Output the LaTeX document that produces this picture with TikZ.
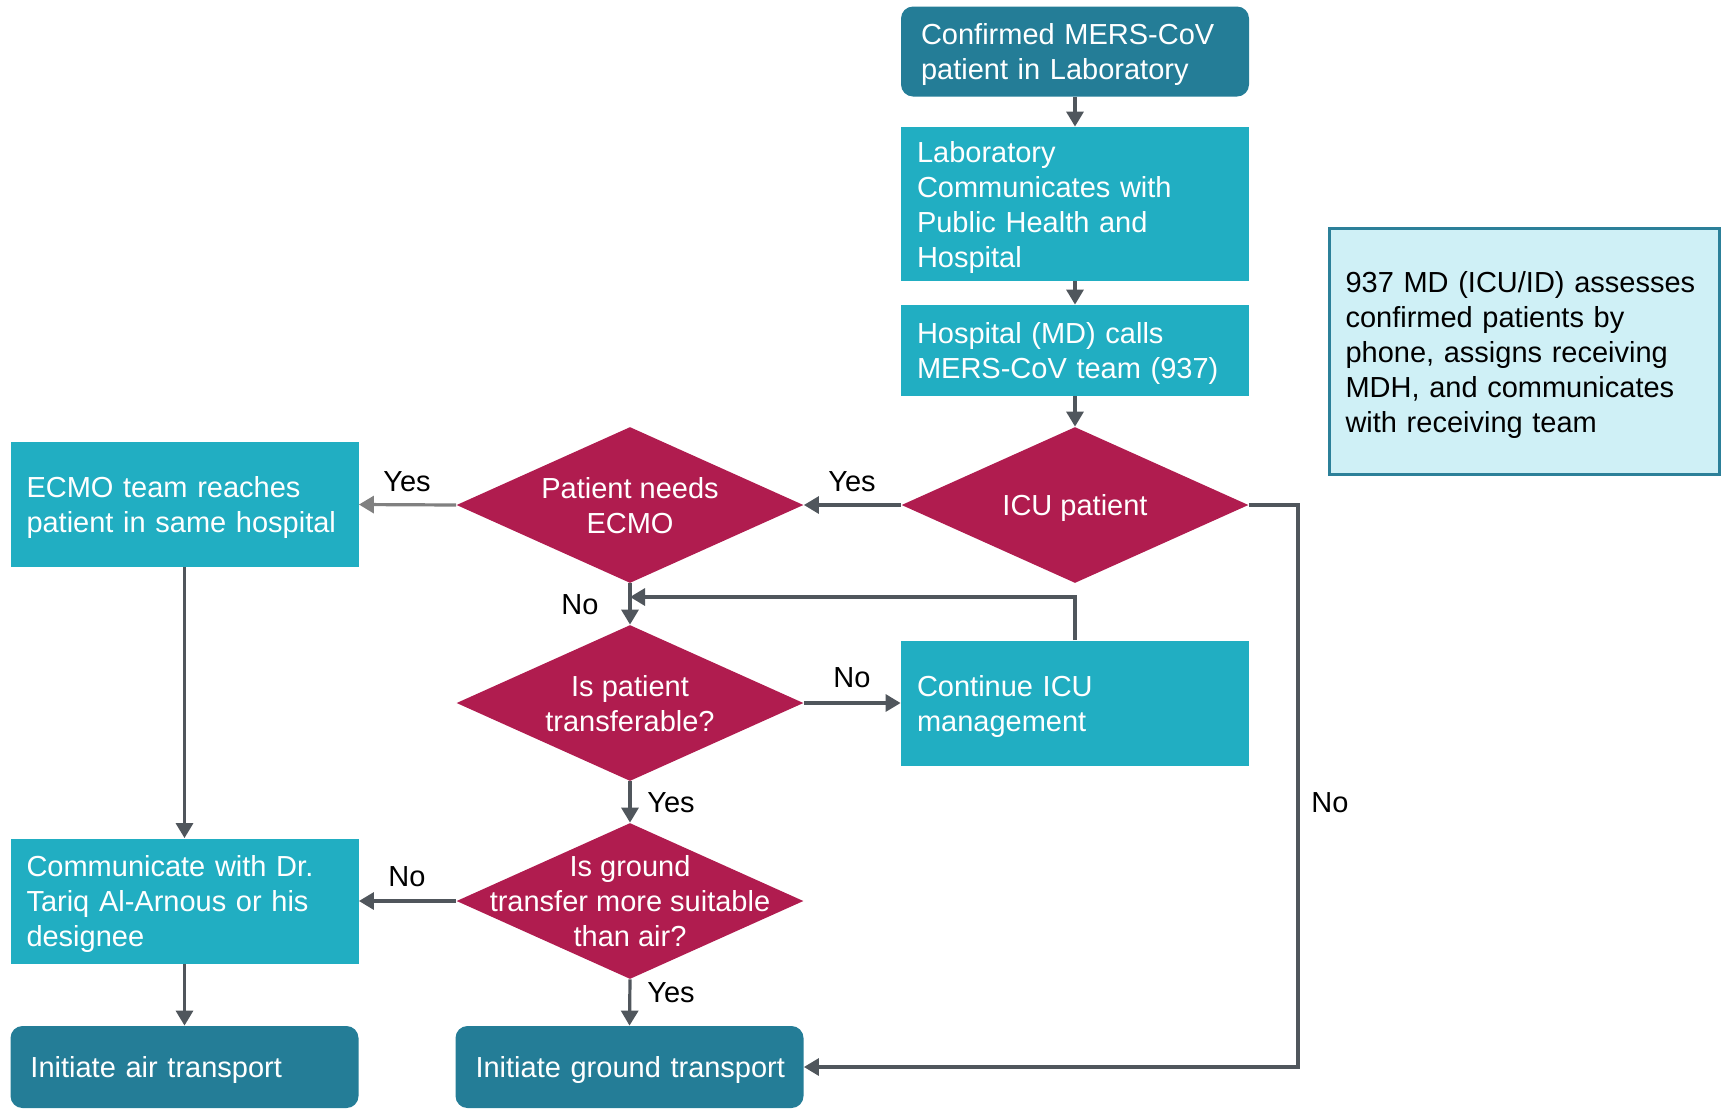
\documentclass[tikz,border=0pt]{standalone}
\usepackage{fontspec}
\setmainfont{Liberation Sans}
\usetikzlibrary{shapes.geometric,arrows.meta}
\definecolor{dteal}{HTML}{247D97}
\definecolor{lteal}{HTML}{21AEC2}
\definecolor{crim}{HTML}{B01C4F}
\definecolor{agrey}{HTML}{50565C}
\definecolor{lgrey}{HTML}{808080}
\definecolor{notefill}{HTML}{CFF0F6}
\definecolor{noteline}{HTML}{2C8099}
\begin{document}
\begin{tikzpicture}[x=0.5pt,y=-0.5pt,
  font=\fontsize{14.5}{17.5}\selectfont,
  lowered/.style={execute at begin node={\hyphenpenalty=10000\rule{0pt}{13.9pt}}},
  lbox/.style={rectangle, fill=lteal, text=white, align=left, inner xsep=8pt, inner ysep=0pt, text width=158pt, minimum width=174pt, lowered},
  rbox/.style={rectangle, rounded corners=6pt, fill=dteal, text=white, align=left, inner xsep=10pt, inner ysep=0pt, text width=154pt, minimum width=174pt, lowered},
  dia/.style={diamond, fill=crim, minimum width=173.5pt, minimum height=78pt, inner sep=0pt},
  dtext/.style={text=white, align=center, inner sep=0pt},
  conn/.style={draw=agrey, line width=1.6pt, -{Triangle[width=8.5pt,length=7.5pt]}},
  lbl/.style={text=black, inner sep=0pt}
]
\useasboundingbox (0,0) rectangle (1723,1109);

% boxes
\node[rbox, minimum height=45pt] (conf) at (1075,51.5) {Confirmed MERS-CoV\\patient in Laboratory};
\node[lbox, minimum height=77pt] (lab) at (1075,204) {Laboratory\\Communicates with\\Public Health and\\Hospital};
\node[lbox, minimum height=45.5pt] (hosp) at (1075,350.5) {Hospital (MD) calls\\MERS-CoV team (937)};
\node[dia] (icu) at (1075,505) {};
\node[dtext] (icut) at (1075,508) {ICU patient};
\node[dia] (ecmo) at (630,505) {};
\node[dtext] (ecmot) at (630,505.5) {Patient needs\\ECMO};
\node[lbox, minimum height=62.5pt] (team) at (184.5,504.5) {ECMO team reaches\\patient in same hospital};
\node[dia] (transf) at (630,703) {};
\node[dtext] (transft) at (630,704) {Is patient\\transferable?};
\node[lbox, minimum height=62.5pt] (cont) at (1075,703) {Continue ICU\\management};
\node[dia] (ground) at (630,901) {};
\node[dtext] (groundt) at (630,901.5) {Is ground\\transfer more suitable\\than air?};
\node[lbox, minimum height=62.5pt] (comm) at (184.5,901) {Communicate with Dr.\\Tariq Al-Arnous or his\\designee};
\node[rbox, minimum height=41pt] (air) at (184.5,1067) {Initiate air transport};
\node[rbox, minimum height=41pt] (gtrans) at (629.5,1067) {\mbox{Initiate ground transport}};

\node[rectangle, draw=noteline, line width=1.5pt, fill=notefill, text=black, align=left,
  minimum width=195pt, minimum height=123pt, text width=179pt, inner xsep=8pt, inner ysep=0pt, lowered] (note) at (1524.5,351.5)
  {937 MD (ICU/ID) assesses\\confirmed patients by\\phone, assigns receiving\\MDH, and communicates\\with receiving team};

% coordinates
\coordinate (loopin) at (630,597);
\coordinate (nocorner) at (1298,1067);

% connectors
\draw[conn] (conf.south) -- (lab.north);
\draw[conn] (lab.south) -- (hosp.north);
\draw[conn] (hosp.south) -- (icu.north);
\draw[conn] (icu.west) -- (ecmo.east);
\draw[conn, draw=lgrey] (ecmo.west) -- (team.east);
\draw[conn] (ecmo.south) -- (transf.north);
\draw[conn] (cont.north) |- (loopin);
\draw[conn] (transf.east) -- (cont.west);
\draw[conn] (transf.south) -- (ground.north);
\draw[conn] (ground.west) -- (comm.east);
\draw[conn] (ground.south) -- (gtrans.north);
\draw[conn] (team.south) -- (comm.north);
\draw[conn] (comm.south) -- (air.north);
\draw[conn] (icu.east) -| (nocorner) -- (gtrans.east);

% labels
\node[lbl] (l1) at (852,482) {Yes};
\node[lbl] (l2) at (407,482) {Yes};
\node[lbl] (l3) at (580,605) {No};
\node[lbl] (l4) at (852,678) {No};
\node[lbl] (l5) at (671,803) {Yes};
\node[lbl] (l6) at (407,877) {No};
\node[lbl] (l7) at (671,993) {Yes};
\node[lbl] (l8) at (1330,803) {No};
\end{tikzpicture}
\end{document}
